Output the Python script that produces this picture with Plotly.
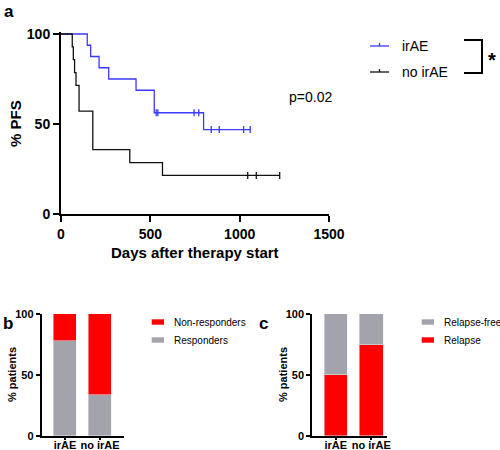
import plotly.graph_objects as go

# ---------------- data ----------------
# Panel a: Kaplan-Meier progression-free survival (%), step points
irae_days = [0, 147, 166, 213, 267, 420, 522, 798, 1059]
irae_pfs = [100, 93.75, 87.5, 81.25, 75, 68.75, 56.25, 46.875, 46.875]
irae_censor_days = [533, 542, 745, 771, 841, 886, 1022, 1059]
irae_censor_pfs = [56.25, 56.25, 56.25, 56.25, 46.875, 46.875, 46.875, 46.875]

noirae_days = [0, 63, 69, 76, 84, 101, 178, 385, 568, 1224]
noirae_pfs = [100, 92.86, 85.71, 78.57, 71.43, 57.14, 35.71, 28.57, 21.43, 21.43]
noirae_censor_days = [1045, 1093, 1224]
noirae_censor_pfs = [21.43, 21.43, 21.43]

# Panel b / c: stacked percentages
groups = ["irAE", "no irAE"]
responders = [77.8, 33.3]
non_responders = [22.2, 66.7]
relapse = [50, 75]
relapse_free = [50, 25]

p_value_text = "p=0.02"

# ---------------- style ----------------
FONT = "Liberation Sans, Arial, sans-serif"
BLUE = "#3a3aff"
BLACK = "#111111"
RED = "#ff0000"
GREY = "#a3a3ab"
W, H = 500, 450


def px(x):
    return x / W


def py(y):
    return 1 - y / H


fig = go.Figure()

# ---- panel a traces ----
fig.add_trace(go.Scatter(x=irae_days, y=irae_pfs, mode="lines", name=groups[0],
                         line=dict(shape="hv", color=BLUE, width=1.3),
                         xaxis="x", yaxis="y", hoverinfo="skip"))
fig.add_trace(go.Scatter(x=irae_censor_days, y=irae_censor_pfs, mode="markers",
                         marker=dict(symbol="line-ns", size=5, line=dict(color=BLUE, width=1.3)),
                         xaxis="x", yaxis="y", hoverinfo="skip"))
fig.add_trace(go.Scatter(x=noirae_days, y=noirae_pfs, mode="lines", name=groups[1],
                         line=dict(shape="hv", color=BLACK, width=1.3),
                         xaxis="x", yaxis="y", hoverinfo="skip"))
fig.add_trace(go.Scatter(x=noirae_censor_days, y=noirae_censor_pfs, mode="markers",
                         marker=dict(symbol="line-ns", size=5, line=dict(color=BLACK, width=1.3)),
                         xaxis="x", yaxis="y", hoverinfo="skip"))

# ---- panel b traces ----
fig.add_trace(go.Bar(x=groups, y=responders, name="Responders", marker_color=GREY,
                     width=0.667, xaxis="x2", yaxis="y2"))
fig.add_trace(go.Bar(x=groups, y=non_responders, name="Non-responders", marker_color=RED,
                     width=0.667, xaxis="x2", yaxis="y2"))

# ---- panel c traces ----
fig.add_trace(go.Bar(x=groups, y=relapse, name="Relapse", marker_color=RED,
                     width=0.655, xaxis="x3", yaxis="y3"))
fig.add_trace(go.Bar(x=groups, y=relapse_free, name="Relapse-free", marker_color=GREY,
                     width=0.655, xaxis="x3", yaxis="y3"))

axis_common = dict(showline=True, linewidth=2, linecolor="black", ticks="outside",
                   tickwidth=2, tickcolor="black", showgrid=False, zeroline=False,
                   fixedrange=True)

fig.update_layout(
    width=W, height=H, margin=dict(l=0, r=0, t=0, b=0, autoexpand=False),
    paper_bgcolor="white", plot_bgcolor="white",
    font=dict(family=FONT, color="black"),
    showlegend=False,
    barmode="stack", bargap=0,
    xaxis=dict(domain=[px(61), px(329)], range=[0, 1500], tickvals=[0, 500, 1000, 1500],
               ticklen=6, tickfont=dict(size=14, weight="bold"), anchor="y", **axis_common),
    yaxis=dict(domain=[py(214), py(32.2)], range=[0, 101], tickvals=[0, 50, 100],
               ticklen=6, tickfont=dict(size=14, weight="bold"), anchor="x", **axis_common),
    xaxis2=dict(domain=[px(41.7), px(124)], range=[-0.667, 1.686], type="category",
                ticklen=2, ticklabelstandoff=-4,
                tickfont=dict(size=11, weight="bold"), anchor="y2", **axis_common),
    yaxis2=dict(domain=[py(436), py(314)], range=[0, 100], tickvals=[0, 50, 100],
                ticklen=4, tickfont=dict(size=11, weight="bold"), anchor="x2", **axis_common),
    xaxis3=dict(domain=[px(312.3), px(386.7)], range=[-0.657, 1.433], type="category",
                ticklen=2, ticklabelstandoff=-4,
                tickfont=dict(size=11, weight="bold"), anchor="y3", **axis_common),
    yaxis3=dict(domain=[py(436), py(314)], range=[0, 100], tickvals=[0, 50, 100],
                ticklen=4, tickfont=dict(size=11, weight="bold"), anchor="x3", **axis_common),
)

ann = []
shapes = []


def add_text(x, y, text, size, bold=False, angle=0, xanchor="center"):
    ann.append(dict(x=px(x), y=py(y), xref="paper", yref="paper", text=text, showarrow=False,
                    xanchor=xanchor, yanchor="middle", textangle=angle,
                    font=dict(size=size, family=FONT, color="black",
                              weight="bold" if bold else "normal")))


def add_line(x0, y0, x1, y1, color, width):
    shapes.append(dict(type="line", xref="paper", yref="paper",
                       x0=px(x0), y0=py(y0), x1=px(x1), y1=py(y1),
                       line=dict(color=color, width=width)))


def add_rect(x0, y0, x1, y1, color):
    shapes.append(dict(type="rect", xref="paper", yref="paper",
                       x0=px(x0), y0=py(y0), x1=px(x1), y1=py(y1),
                       fillcolor=color, line=dict(width=0)))


# panel letters and titles
add_text(9, 11, "a", 17, bold=True)
add_text(8, 323, "b", 17, bold=True)
add_text(263, 323, "c", 17, bold=True)
add_text(195, 253, "Days after therapy start", 15, bold=True)
add_text(15, 124, "% PFS", 15, bold=True, angle=-90)
add_text(310, 97, p_value_text, 14)
add_text(12, 375, "% patients", 11, bold=True, angle=-90)
add_text(283, 375, "% patients", 11, bold=True, angle=-90)

# legend panel a
for (yy, col, label) in [(46, BLUE, groups[0]), (72, BLACK, groups[1])]:
    add_line(370, yy, 389, yy, col, 1.3)
    add_line(379.5, yy, 379.5, yy - 3, col, 1.3)
    add_text(400, yy, label, 14, xanchor="left")

# significance bracket and star
shapes.append(dict(type="path", xref="paper", yref="paper",
                   path=f"M {px(464)},{py(40)} L {px(482)},{py(40)} L {px(482)},{py(73)} L {px(464)},{py(73)}",
                   line=dict(color="black", width=2)))
add_text(492, 60, "*", 20, bold=True)

# legend panel b
add_rect(151.7, 319.3, 164, 324.7, RED)
add_text(171.7, 322, "Non-responders", 10, xanchor="left")
add_rect(151.7, 337.3, 164, 342.7, GREY)
add_text(171.7, 340, "Responders", 10, xanchor="left")

# legend panel c
add_rect(421.7, 319.3, 434, 324.7, GREY)
add_text(441.5, 322, "Relapse-free", 10, xanchor="left")
add_rect(421.7, 337.3, 434, 342.7, RED)
add_text(441.5, 340, "Relapse", 10, xanchor="left")

fig.update_layout(annotations=ann, shapes=shapes)

fig.write_html("out.html", config={"displayModeBar": False},
               post_script="document.body.style.margin='0';document.body.style.overflow='hidden';")
